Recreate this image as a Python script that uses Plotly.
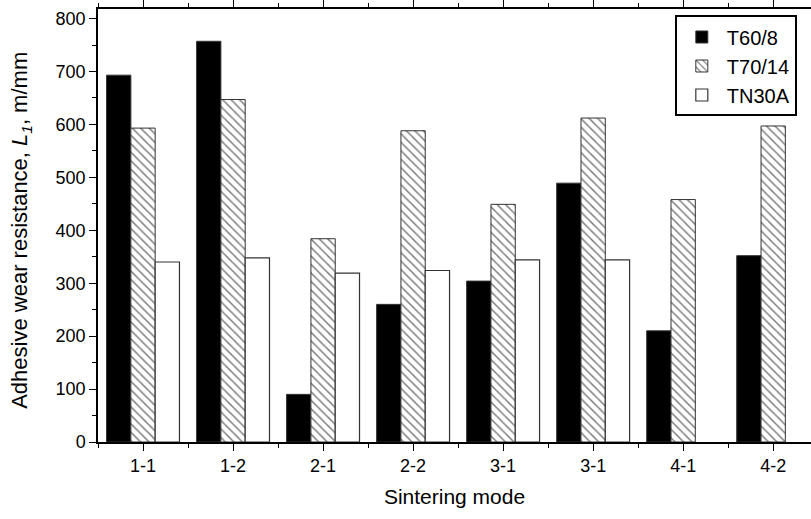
import plotly.graph_objects as go

categories = ["1-1", "1-2", "2-1", "2-2", "3-1", "3-1", "4-1", "4-2"]
positions = [1, 2, 3, 4, 5, 6, 7, 8]
t60_8 = [693, 757, 90, 260, 304, 489, 210, 352]
t70_14 = [593, 647, 384, 588, 449, 612, 458, 597]
tn30a = [340, 348, 319, 324, 344, 344, None, None]

FONT = "Liberation Sans, Arial, sans-serif"

fig = go.Figure()
fig.add_trace(go.Bar(x=positions, y=t60_8, name="T60/8",
                     marker=dict(color="black", line=dict(color="#333333", width=1))))
fig.add_trace(go.Bar(x=positions, y=t70_14, name="T70/14",
                     marker=dict(color="white", line=dict(color="#333333", width=1),
                                 pattern=dict(shape="\\", fgcolor="black", bgcolor="white",
                                              size=6, solidity=0.25))))
fig.add_trace(go.Bar(x=positions, y=tn30a, name="TN30A",
                     marker=dict(color="white", line=dict(color="#333333", width=1.2))))

fig.update_layout(
    width=811, height=519,
    margin=dict(l=98, r=0, t=6, b=77),
    paper_bgcolor="white", plot_bgcolor="white",
    barmode="group", bargap=0.19, bargroupgap=0,
    font=dict(family=FONT, size=17, color="black"),
    showlegend=True,
    legend=dict(x=0.809, y=0.985, xanchor="left", yanchor="top",
                bordercolor="black", borderwidth=2, bgcolor="white",
                font=dict(size=20), tracegroupgap=0, itemwidth=40),
    annotations=[dict(
        text="Adhesive wear resistance, <i>L</i><sub><i>1</i></sub>, m/mm",
        xref="paper", yref="paper", x=-0.108, y=0.49, xanchor="center", yanchor="middle",
        textangle=-90, showarrow=False, font=dict(size=22))],
)
fig.update_xaxes(
    range=[0.5, 8.42], tickmode="array", tickvals=positions, ticktext=categories,
    ticks="outside", ticklen=7, tickwidth=1.2, tickcolor="black",
    showline=True, linecolor="black", linewidth=1.5, mirror="ticks",
    showgrid=False, zeroline=False,
    minor=dict(tickvals=[0.5 + i for i in range(9)], ticks="outside", ticklen=4,
               tickwidth=1.2, tickcolor="black"),
    title=dict(text="Sintering mode", font=dict(size=21), standoff=14),
    tickfont=dict(size=18),
)
fig.update_yaxes(
    range=[0, 818], tickmode="linear", tick0=0, dtick=100,
    ticks="outside", ticklen=7, tickwidth=1.2, tickcolor="black",
    showline=True, linecolor="black", linewidth=1.5, mirror=False,
    showgrid=False, zeroline=False,
    minor=dict(dtick=50, ticks="outside", ticklen=4, tickwidth=1.2, tickcolor="black"),
    tickfont=dict(size=18),
)

fig.write_html("out.html")
